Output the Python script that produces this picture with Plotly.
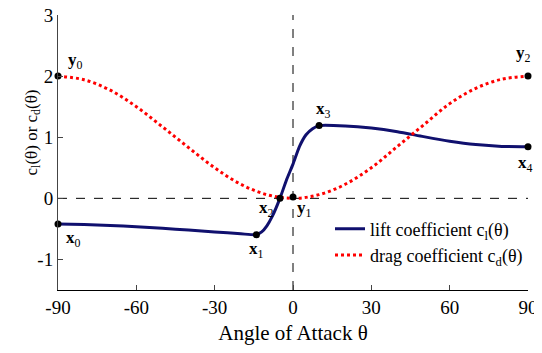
import plotly.graph_objects as go

# Angle of attack (degrees) and coefficients
theta_drag = [-90, -80, -70, -60, -50, -40, -30, -20, -10, 0,
              10, 20, 30, 40, 50, 60, 70, 80, 90]
drag = [2.0, 1.94, 1.77, 1.5, 1.17, 0.83, 0.5, 0.23, 0.06, 0.0,
        0.06, 0.23, 0.5, 0.85, 1.2, 1.55, 1.8, 1.95, 2.0]

theta_lift = [-90, -80, -70, -60, -50, -40, -30, -20, -14, -12, -10, -8,
              -5, -2.5, 0, 2.5, 5, 7.5, 10, 20, 30, 40, 50, 60, 70, 80, 90]
lift = [-0.42, -0.43, -0.445, -0.465, -0.49, -0.52, -0.55, -0.58, -0.595,
        -0.55, -0.45, -0.3, 0.0, 0.3, 0.56, 0.85, 1.04, 1.14, 1.19,
        1.185, 1.15, 1.09, 1.01, 0.935, 0.88, 0.85, 0.845]

pt_names = ["x<sub>0</sub>", "x<sub>1</sub>", "x<sub>2</sub>", "x<sub>3</sub>", "x<sub>4</sub>",
            "y<sub>0</sub>", "y<sub>1</sub>", "y<sub>2</sub>"]
pt_theta = [-90, -14, -5, 10, 90, -90, 0, 90]
pt_val = [-0.42, -0.595, 0.0, 1.19, 0.845, 2.0, 0.02, 2.0]

x_ticks = [-90, -60, -30, 0, 30, 60, 90]
x_ticktext = ["-90", "-60", "-30", "0", "30", "60", "90"]
y_ticks = [-1, 0, 1, 2, 3]
y_ticktext = ["-1", "0", "1", "2", "3"]

FONT = "Liberation Serif, Times New Roman, serif"
navy = "#10106e"

fig = go.Figure()
fig.add_trace(go.Scatter(x=theta_lift, y=lift, mode="lines", line=dict(color=navy, width=3, shape="spline", smoothing=0.6),
                         name="lift coefficient c<sub>l</sub>(θ)"))
fig.add_trace(go.Scatter(x=theta_drag, y=drag, mode="lines", line=dict(color="#ff0000", width=3, dash="dot", shape="spline"),
                         name="drag coefficient c<sub>d</sub>(θ)"))
fig.add_trace(go.Scatter(x=pt_theta, y=pt_val, mode="markers", marker=dict(color="black", size=7), showlegend=False,
                         cliponaxis=False))

# label offsets (px)
offs = [(15, -15), (0, -15), (-13, -11), (4, 16), (-3, -17), (17, 15), (11, -12), (-5, 22)]
for n, t, v, (dx, dy) in zip(pt_names, pt_theta, pt_val, offs):
    fig.add_annotation(x=t, y=v, text="<b>" + n.replace("<sub>", "</b><sub>"), showarrow=False,
                       xshift=dx, yshift=dy, font=dict(family=FONT, size=17, color="black"))

# y-axis title (placed as in the reference, slightly above the axis centre)
fig.add_annotation(xref="paper", yref="paper", x=0, y=0.573, xshift=-38, textangle=-90, showarrow=False,
                   text="c<sub>l</sub>(θ) or c<sub>d</sub>(θ)", font=dict(family=FONT, size=17, color="black"))

fig.add_shape(type="line", x0=-90, x1=90, y0=0, y1=0, line=dict(color="black", width=1, dash="dash"), layer="below")
fig.add_shape(type="line", x0=0, x1=0, y0=-1.5, y1=3, line=dict(color="black", width=1, dash="dash"), layer="below")

fig.update_layout(
    width=534, height=345,
    margin=dict(l=50, r=14, t=7, b=63),
    paper_bgcolor="white", plot_bgcolor="white",
    font=dict(family=FONT, size=18, color="black"),
    legend=dict(x=1.0, y=0.06, xanchor="right", yanchor="bottom", bgcolor="rgba(255,255,255,0)",
                font=dict(family=FONT, size=18), tracegroupgap=0, itemwidth=30),
    xaxis=dict(range=[-90, 90], tickvals=x_ticks, ticktext=x_ticktext, ticks="inside", ticklen=5, showline=True,
               linecolor="black", linewidth=1, showgrid=False, zeroline=False, automargin=False,
               tickfont=dict(family=FONT, size=19), ticklabeloverflow="allow",
               title=dict(text="Angle of Attack θ", standoff=8, font=dict(family=FONT, size=21))),
    yaxis=dict(range=[-1.5, 3], tickvals=y_ticks, ticktext=y_ticktext, ticks="inside", ticklen=5, showline=True,
               linecolor="#444", linewidth=1, showgrid=False, zeroline=False, automargin=False,
               tickfont=dict(family=FONT, size=19), ticklabeloverflow="allow"),
)
fig.write_html("out.html")
